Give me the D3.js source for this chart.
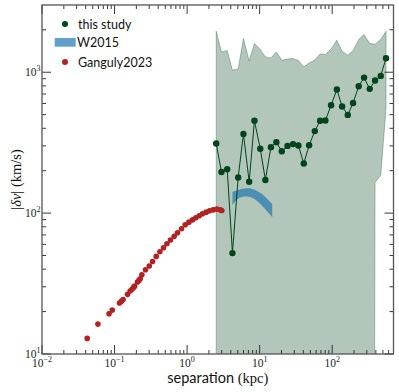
<!DOCTYPE html>
<html>
<head>
<meta charset="utf-8">
<script src="https://d3js.org/d3.v7.min.js"></script>
<style>
  body { margin: 0; background: #fff; }
  .tick-label { font-family: "Liberation Serif", serif; font-size: 11.5px; fill: #222; }
  .leg { font-family: Lato, sans-serif; font-size: 12.5px; fill: #111; }
</style>
</head>
<body>
<script>
// this study: separations (kpc), |dv| (km/s) and the shaded range
var studyX = [2.52, 2.98, 3.57, 4.22, 5.06, 5.98, 7.17, 8.48, 10.2, 12.0, 14.3, 17.0, 20.2, 24.2, 28.9, 34.2,
              40.6, 48.1, 57.6, 68.1, 80.6, 96.6, 116, 137, 164, 194, 232, 275, 329, 390, 467, 552];
var studyV = [312, 196, 205, 52, 179, 365, 167, 452, 286, 172, 294, 319, 275, 300, 309, 302,
              225, 303, 382, 452, 454, 583, 754, 571, 498, 605, 795, 916, 762, 874, 942, 1257];
var studyHi = [1954, 1393, 1426, 1033, 1055, 1734, 1202, 1599, 1449, 1284, 1263, 1393, 1216, 1242, 1250, 1211,
               1091, 1165, 1223, 1348, 1335, 1463, 1686, 1409, 1321, 1426, 1707, 1850, 1599, 1582, 1707, 1954];
var studyLo = [0, 0, 0, 0, 0, 0, 0, 0, 0, 0, 0, 0, 0, 0, 0, 0,
               0, 0, 0, 0, 0, 0, 0, 0, 0, 0, 0, 0, 0, 165, 185, 550];

// W2015 band
var wX  = [4.22, 5.1, 6.67, 8.67, 11.3, 14.9];
var wHi = [142, 146, 150, 146, 134, 116];
var wLo = [114, 127, 131, 125, 110, 94];

// Ganguly2023
var gX = [0.042, 0.059, 0.084, 0.093, 0.117, 0.124, 0.131, 0.151, 0.164, 0.174, 0.183, 0.189, 0.207,
          0.217, 0.226, 0.238, 0.267, 0.301, 0.334, 0.375, 0.422, 0.473, 0.527, 0.590, 0.664, 0.738,
          0.838, 0.942, 1.06, 1.19, 1.32, 1.47, 1.63, 1.83, 2.04, 2.29, 2.57, 2.86, 3.01];
var gV = [12.9, 16.3, 19.3, 20.5, 23.0, 23.7, 24.3, 26.5, 28.0, 28.8, 29.7, 30.3, 32.4,
          33.3, 34.2, 36.5, 39.6, 42.1, 45.4, 49.3, 53.2, 56.8, 60.6, 64.4, 68.4, 72.5,
          77.4, 82.6, 86.3, 89.6, 92.6, 95.7, 98.9, 101.6, 103.8, 105.5, 106.7, 105.5, 104.4];

var xTicks = [0.01, 0.1, 1, 10, 100];
var xTickExp = ["\u22122", "\u22121", "0", "1", "2"];
var yTicks = [10, 100, 1000];
var yTickExp = ["1", "2", "3"];

var W = 399, H = 392;
var margin = {top: 5, right: 5.5, bottom: 38, left: 42};
var w = W - margin.left - margin.right,
    h = H - margin.top - margin.bottom;

var green = "#00441b", red = "#b22222", blue = "#1f77b4";

var svg = d3.select("body").append("svg")
    .attr("width", W)
    .attr("height", H);

var g = svg.append("g").attr("transform", "translate(" + margin.left + "," + margin.top + ")");

var x = d3.scaleLog().domain([0.01, 700]).range([0, w]);
var y = d3.scaleLog().domain([10, 3000]).range([h, 0]);

// non-positive lower limits fall off the bottom of the log axis
function yy(v) { return v > 0 ? y(v) : h + 2000; }

g.append("clipPath").attr("id", "clip")
  .append("rect").attr("width", w).attr("height", h);

var plot = g.append("g").attr("clip-path", "url(#clip)");

var band = d3.range(studyX.length);
plot.append("path")
    .attr("d", d3.area()
      .x(function (i) { return x(studyX[i]); })
      .y0(function (i) { return yy(studyLo[i]); })
      .y1(function (i) { return y(studyHi[i]); })(band))
    .attr("fill", green).attr("fill-opacity", 0.3)
    .attr("stroke", green).attr("stroke-opacity", 0.3).attr("stroke-width", 1);

plot.append("path")
    .attr("d", d3.area()
      .curve(d3.curveNatural)
      .x(function (i) { return x(wX[i]); })
      .y0(function (i) { return y(wLo[i]); })
      .y1(function (i) { return y(wHi[i]); })(d3.range(wX.length)))
    .attr("fill", blue).attr("fill-opacity", 0.7);

plot.selectAll(".gpt").data(d3.range(gX.length)).enter().append("circle")
    .attr("cx", function (i) { return x(gX[i]); })
    .attr("cy", function (i) { return y(gV[i]); })
    .attr("r", 2.8)
    .attr("fill", red);

plot.append("path")
    .attr("d", d3.line()
      .x(function (i) { return x(studyX[i]); })
      .y(function (i) { return y(studyV[i]); })(band))
    .attr("fill", "none").attr("stroke", green).attr("stroke-width", 1);

plot.selectAll(".spt").data(band).enter().append("circle")
    .attr("cx", function (i) { return x(studyX[i]); })
    .attr("cy", function (i) { return y(studyV[i]); })
    .attr("r", 3.2)
    .attr("fill", green);

// ticks on all four sides, pointing in
function minors(lo, hi) {
  var out = [];
  for (var p = lo; p < hi; p *= 10)
    for (var k = 2; k <= 9; k++) out.push(p * k);
  return out;
}
var xMinor = minors(0.01, 1000).filter(function (v) { return v < 700; });
var yMinor = minors(10, 10000).filter(function (v) { return v < 3000; });

var ticks = g.append("g").attr("stroke", "#222").attr("stroke-width", 0.9);
function hTicks(vals, len) {
  vals.forEach(function (v) {
    ticks.append("line").attr("x1", x(v)).attr("x2", x(v)).attr("y1", h).attr("y2", h - len);
    ticks.append("line").attr("x1", x(v)).attr("x2", x(v)).attr("y1", 0).attr("y2", len);
  });
}
function vTicks(vals, len) {
  vals.forEach(function (v) {
    ticks.append("line").attr("y1", y(v)).attr("y2", y(v)).attr("x1", 0).attr("x2", len);
    ticks.append("line").attr("y1", y(v)).attr("y2", y(v)).attr("x1", w).attr("x2", w - len);
  });
}
hTicks(xTicks, 9); hTicks(xMinor, 4);
vTicks(yTicks, 9); vTicks(yMinor, 4);

g.append("rect").attr("width", w).attr("height", h)
    .attr("fill", "none").attr("stroke", "#555").attr("stroke-width", 1.3);

// tick labels
xTicks.forEach(function (v, i) {
  var t = g.append("text").attr("class", "tick-label")
      .attr("x", x(v)).attr("y", h + 13).attr("text-anchor", "middle");
  t.append("tspan").text("10");
  t.append("tspan").attr("dy", -5).attr("font-size", 8).text(xTickExp[i]);
});
yTicks.forEach(function (v, i) {
  var t = g.append("text").attr("class", "tick-label")
      .attr("x", -1.5).attr("y", y(v) + 4).attr("text-anchor", "end");
  t.append("tspan").text("10");
  t.append("tspan").attr("dy", -5).attr("font-size", 8).text(yTickExp[i]);
});

// axis titles
var xl = svg.append("text").attr("x", margin.left + w / 2).attr("y", 383)
    .attr("text-anchor", "middle").attr("font-size", 14.5).attr("fill", "#111");
xl.append("tspan").attr("font-family", "Lato, sans-serif").text("separation ");
xl.append("tspan").attr("font-family", "Liberation Serif, serif").text("(kpc)");

var yl = svg.append("text")
    .attr("transform", "translate(21," + (margin.top + h / 2) + ") rotate(-90)")
    .attr("text-anchor", "middle").attr("font-size", 14.5).attr("fill", "#111")
    .attr("font-family", "Liberation Serif, serif");
yl.append("tspan").text("|");
yl.append("tspan").attr("font-style", "italic").text("\u03b4v");
yl.append("tspan").text("| (km/s)");

// legend
var leg = svg.append("g");
leg.append("circle").attr("cx", 65).attr("cy", 24).attr("r", 3).attr("fill", green);
leg.append("text").attr("class", "leg").attr("x", 78).attr("y", 28.5).text("this study");
leg.append("rect").attr("x", 54.7).attr("y", 38).attr("width", 21).attr("height", 8.7)
    .attr("fill", blue).attr("fill-opacity", 0.7);
leg.append("text").attr("class", "leg").attr("x", 77).attr("y", 47).text("W2015");
leg.append("circle").attr("cx", 65).attr("cy", 62).attr("r", 3).attr("fill", red);
leg.append("text").attr("class", "leg").attr("x", 78).attr("y", 66.5).text("Ganguly2023");
</script>
</body>
</html>
